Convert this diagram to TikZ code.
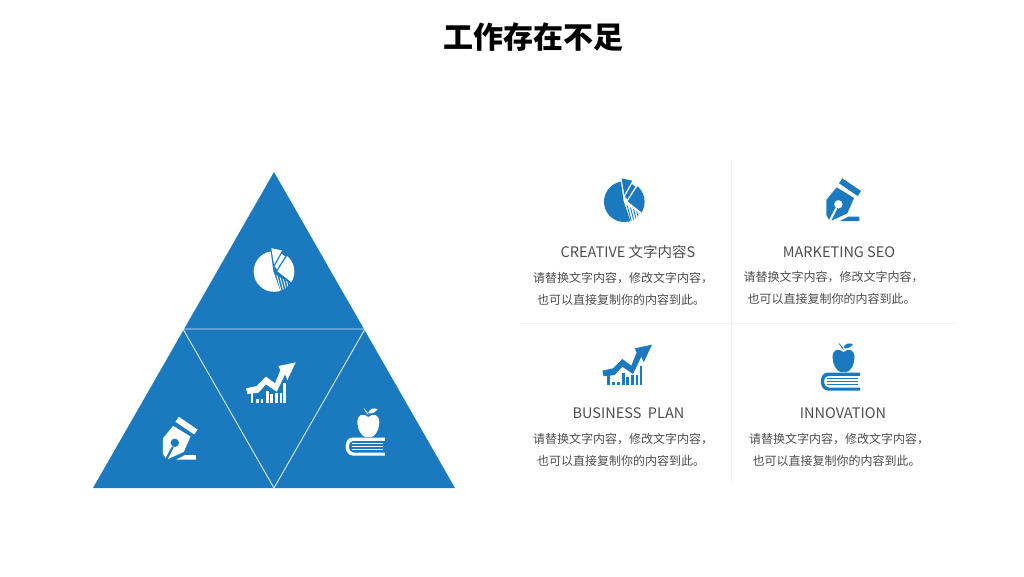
\documentclass[tikz,border=0pt]{standalone}
\usepackage{fontspec}
\setmainfont{Noto Sans CJK SC}
\definecolor{tblue}{HTML}{1B79BF}
\definecolor{tgray}{HTML}{4D4D4D}
\definecolor{tline}{HTML}{F2F2F2}
\newcommand{\iconpie}[3]{%
\begin{scope}[shift={(#1,#2)},scale=.3333,shift={(-313,-125)}]
 \fill[#3] (305,55)--(337,62)--(313,104)--cycle;
 \begin{scope}
  \clip (313,125) circle[radius=61];
  \fill[#3] (301,50)--(311,124)--(334,190)--(230,190)--(230,50)--cycle;
  \fill[#3] (336,72)--(346,80)--(322,118)--(315,110)--cycle;
  \fill[#3] (356,73)--(323,124)--(366,158)--(400,158)--(400,73)--cycle;
  \begin{scope}
   \clip (318,134)--(360,160)--(342,195)--(326,190)--cycle;
   \foreach \k in {0,...,7}{\draw[#3,line width=.9pt] (312+\k*8,130)--(342+\k*8-14,190);}
  \end{scope}
 \end{scope}
\end{scope}}
\newcommand{\iconpen}[3]{%
\begin{scope}[shift={(#1,#2)},scale=.3333,shift={(-339,-120)}]
 \fill[#3] (337,55)--(393,93)--(383,108)--(327,70)--cycle;
 \fill[#3,even odd rule] (320,82)--(372,114)--(352,160)--(304,182)--(322,146)--(316,143)--(297,179)--(289,165)--(289,120)--cycle
   (325,133) circle[radius=13];
 \fill[#3] (330,183)--(355,170)--(388,170)--(388,183)--cycle;
\end{scope}}
\newcommand{\iconchart}[3]{%
\begin{scope}[shift={(#1,#2)},scale=.3333,shift={(-90,-78)}]
 \fill[#3] (13,92)--(45,85)--(73,57)--(100,77)--(116,37)--(110,25)--(162,14)--(137,67)--(130,50)--(105,102)--(73,80)--(50,105)--(17,109)--cycle;
 \foreach \a/\b/\t in {27/35/105,43/51/125,57/65/125,73/81/100,85/93/110,100/108/105,115/121/105,125/133/77}{
  \fill[#3] (\a,\t) rectangle (\b,135);}
\end{scope}}
\newcommand{\iconbook}[3]{%
\begin{scope}[shift={(#1,#2)},scale=.3333,shift={(-76,-85)}]
 \fill[#3] (85,42) .. controls (68,28) and (52,35) .. (52,58) .. controls (52,80) and (68,103) .. (78,102) .. controls (83,100) and (87,100) .. (92,102) .. controls (104,103) and (118,80) .. (118,58) .. controls (118,35) and (102,28) .. (85,42) -- cycle;
 \fill[#3] (85,30) .. controls (88,16) and (100,13) .. (113,18) .. controls (105,30) and (93,32) .. (85,30) -- cycle;
 \draw[#3,line width=.8pt] (72,16)--(85,34);
 \fill[#3] (135,103)--(38,103) .. controls (25,103) and (17,115) .. (17,130) .. controls (17,147) and (27,157) .. (38,157)--(135,157)--(135,148)--(40,148) .. controls (32,148) and (27,140) .. (27,130) .. controls (27,120) and (32,113) .. (40,113)--(135,113)--cycle;
 \fill[#3] (36,119) rectangle (128,123);
 \fill[#3] (36,128) rectangle (128,132);
 \fill[#3] (36,137) rectangle (128,141);
\end{scope}}
\tikzset{
 heading/.style={text=tgray,font=\fontsize{14.5}{16}\selectfont,inner sep=0pt,anchor=center},
 bodytext/.style={text=tgray,font=\fontsize{12}{14}\selectfont,inner sep=0pt,anchor=center},
 grid/.style={draw=tline,line width=.8pt},
 seam/.style={draw=white!85!tblue,line width=.9pt}
}
\begin{document}
\begin{tikzpicture}[x=1pt,y=-1pt]
\useasboundingbox (0,0) rectangle (1024,576);
\node[inner sep=0pt,font=\fontsize{30}{34}\selectfont\bfseries,text=black] (title) at (533.5,37.5) {工作存在不足};
% triangle
\fill[tblue] (274,172)--(455,488)--(93,488)--cycle;
\draw[seam] (183,329)--(365,329)--(274,488)--cycle;
\iconpie{274}{271.5}{white}
\iconchart{271.7}{383.7}{white}
\iconpen{179.5}{438.5}{white}
\iconbook{365.3}{431.5}{white}
% grid
\draw[grid] (731.5,160)--(731.5,485);
\draw[grid] (519,323)--(957,323);
% cells
\iconpie{624.3}{201.7}{tblue}
\iconpen{843}{200}{tblue}
\iconchart{628}{366}{tblue}
\iconbook{840.5}{366.5}{tblue}
\node[heading] (h1) at (628,252) {CREATIVE 文字内容S};
\node[heading] (h2) at (839,252) {MARKETING SEO};
\node[heading] (h3) at (628.5,413) {BUSINESS\ \ PLAN};
\node[heading] (h4) at (843,413) {INNOVATION};
\node[bodytext] (b1a) at (623,278) {请替换文字内容，修改文字内容，};
\node[bodytext] (b1b) at (621,300) {也可以直接复制你的内容到此。};
\node[bodytext] (b2a) at (833.5,277) {请替换文字内容，修改文字内容，};
\node[bodytext] (b2b) at (831.5,298.5) {也可以直接复制你的内容到此。};
\node[bodytext] (b3a) at (623,439) {请替换文字内容，修改文字内容，};
\node[bodytext] (b3b) at (621,461) {也可以直接复制你的内容到此。};
\node[bodytext] (b4a) at (839,439) {请替换文字内容，修改文字内容，};
\node[bodytext] (b4b) at (836.5,461) {也可以直接复制你的内容到此。};
\end{tikzpicture}
\end{document}
